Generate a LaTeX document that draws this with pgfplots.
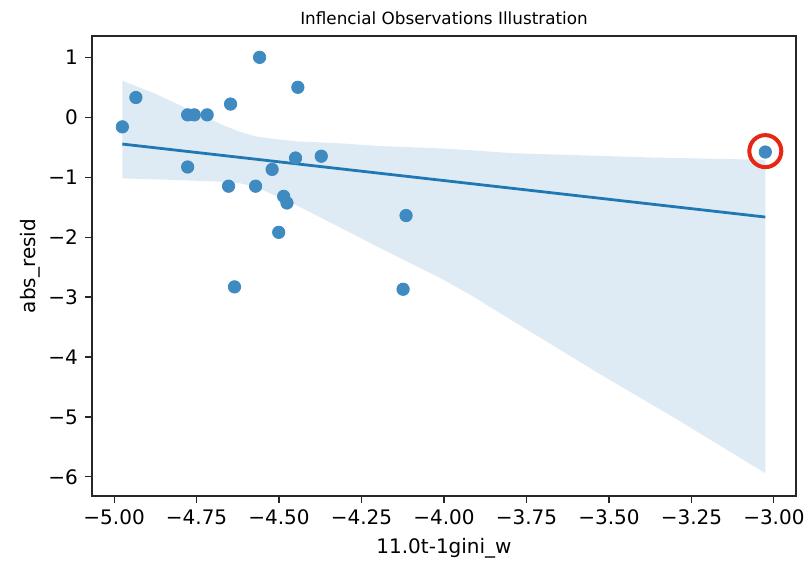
\documentclass[border=0pt]{standalone}
\usepackage{fontspec}
\setmainfont{DejaVu Sans}
\usepackage{pgfplots}
\pgfplotsset{compat=1.18}
\usepgfplotslibrary{fillbetween}
\definecolor{cz}{RGB}{31,119,180}
\definecolor{pt}{RGB}{63,138,192}
\definecolor{circ}{RGB}{232,38,20}
\begin{document}
\begin{tikzpicture}
\begin{axis}[
  scale only axis, width=352pt, height=230pt,
  xmin=-5.067, xmax=-2.933, ymin=-6.32, ymax=1.356,
  axis line style={line width=0.6pt, black!85},
  xtick={-5,-4.75,-4.5,-4.25,-4,-3.75,-3.5,-3.25,-3},
  xticklabels={−5.00,−4.75,−4.50,−4.25,−4.00,−3.75,−3.50,−3.25,−3.00},
  ytick={-6,-5,-4,-3,-2,-1,0,1},
  yticklabels={−6,−5,−4,−3,−2,−1,0,1},
  tick align=outside, xtick pos=lower, ytick pos=left,
  major tick length=3.5pt,
  tick style={line width=0.6pt, black!85},
  ticklabel style={font=\fontsize{10}{12}\selectfont},
  title={Inflencial Observations Illustration},
  every axis title shift=0pt,
  title style={at={(axis description cs:0.5,1.039)}, anchor=center, yshift=0pt, font=\fontsize{8.4}{10}\selectfont},
  xlabel={11.0t-1gini\_w},
  ylabel={abs\_resid},
  xlabel style={at={(axis description cs:0.5,-0.113)}, anchor=center, font=\fontsize{10}{12}\selectfont},
  ylabel style={at={(axis description cs:-0.088,0.5)}, anchor=center, font=\fontsize{10}{12}\selectfont},
]
\addplot[name path=up, draw=none, forget plot] coordinates {
(-4.975,0.61) (-4.87,0.38) (-4.77,0.12) (-4.67,-0.13) (-4.62,-0.24) (-4.57,-0.32) (-4.52,-0.36)
(-4.45,-0.40) (-4.30,-0.44) (-4.195,-0.48) (-4.01,-0.52) (-3.92,-0.55) (-3.79,-0.60)
(-3.38,-0.67) (-3.026,-0.71)};
\addplot[name path=lo, draw=none, forget plot] coordinates {
(-4.975,-1.02) (-4.85,-1.04) (-4.70,-1.07) (-4.62,-1.10) (-4.58,-1.15) (-4.549,-1.215)
(-4.45,-1.46) (-4.30,-1.88) (-4.195,-2.18) (-4.012,-2.68) (-3.921,-2.96) (-3.80,-3.37)
(-3.526,-4.29) (-3.30,-5.02) (-3.026,-5.94)};
\addplot[fill=cz, fill opacity=0.15, draw=none] fill between[of=up and lo];
\addplot[only marks, mark=*, mark size=3.1pt, color=pt] coordinates {
(-4.975,-0.16) (-4.934,0.33) (-4.777,0.04) (-4.757,0.04) (-4.718,0.04) (-4.647,0.22)
(-4.559,1.00) (-4.443,0.50) (-4.777,-0.83) (-4.653,-1.15) (-4.571,-1.15) (-4.521,-0.87)
(-4.450,-0.68) (-4.372,-0.65) (-4.486,-1.32) (-4.476,-1.43) (-4.501,-1.92) (-4.635,-2.83)
(-4.115,-1.64) (-4.124,-2.87) (-3.026,-0.58)};
\addplot[cz, line width=1.4pt] coordinates {(-4.975,-0.447) (-3.026,-1.665)};
\addplot[only marks, mark=o, mark size=8pt, mark options={draw=circ, line width=2pt}] coordinates {(-3.026,-0.565)};
\end{axis}
\pgfresetboundingbox
\path ([shift={(-46pt,-34.5pt)}]current axis.south west) rectangle ([shift={(4pt,18pt)}]current axis.north east);
\end{tikzpicture}
\end{document}
